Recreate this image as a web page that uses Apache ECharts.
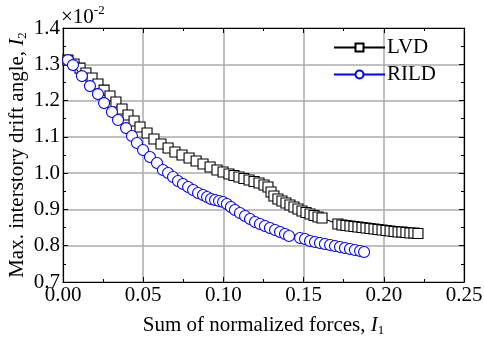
<!DOCTYPE html>
<html><head><meta charset="utf-8">
<script src="https://cdn.jsdelivr.net/npm/echarts@6/dist/echarts.min.js"></script>
<style>html,body{margin:0;padding:0;background:#fff}#c{width:484px;height:340px}</style>
</head><body><div id="c"></div>
<script>
const xTicks = [0, 0.05, 0.10, 0.15, 0.20, 0.25];
const yTicks = [0.7, 0.8, 0.9, 1.0, 1.1, 1.2, 1.3, 1.4];
const seriesNames = ['LVD', 'RILD'];

const lvdX = [0.0031,0.0069,0.0106,0.0143,0.0181,0.0218,0.0256,0.0293,0.0330,0.0368,0.0405,0.0443,0.0480,0.0524,0.0567,0.0611,0.0655,0.0698,0.0742,0.0786,0.0830,0.0873,0.0917,0.0960,0.0998,0.1035,0.1066,0.1097,0.1128,0.1160,0.1191,0.1222,0.1253,0.1278,0.1297,0.1315,0.1340,0.1365,0.1390,0.1415,0.1440,0.1465,0.1490,0.1515,0.1540,0.1565,0.1590,0.1615,0.1714,0.1739,0.1764,0.1789,0.1814,0.1839,0.1864,0.1889,0.1914,0.1939,0.1964,0.1989,0.2014,0.2039,0.2064,0.2089,0.2113,0.2138,0.2163,0.2188,0.2213];
const lvdY = [1.3116,1.3006,1.2895,1.2758,1.2620,1.2455,1.2289,1.2124,1.1959,1.1766,1.1601,1.1435,1.1270,1.1105,1.0939,1.0802,1.0691,1.0581,1.0499,1.0416,1.0333,1.0251,1.0168,1.0085,1.0030,0.9975,0.9934,0.9893,0.9851,0.9810,0.9769,0.9727,0.9672,0.9617,0.9479,0.9369,0.9287,0.9231,0.9176,0.9121,0.9066,0.9011,0.8956,0.8915,0.8873,0.8832,0.8791,0.8763,0.8598,0.8570,0.8556,0.8543,0.8529,0.8515,0.8501,0.8488,0.8474,0.8460,0.8446,0.8433,0.8419,0.8405,0.8391,0.8377,0.8377,0.8364,0.8350,0.8350,0.8336];

const rildX = [0.0031,0.0062,0.0118,0.0168,0.0218,0.0256,0.0305,0.0343,0.0393,0.0430,0.0461,0.0499,0.0542,0.0586,0.0623,0.0655,0.0686,0.0717,0.0748,0.0780,0.0811,0.0842,0.0873,0.0898,0.0923,0.0948,0.0973,0.0998,0.1022,0.1047,0.1072,0.1103,0.1135,0.1166,0.1197,0.1228,0.1259,0.1290,0.1322,0.1353,0.1384,0.1409,0.1478,0.1509,0.1540,0.1571,0.1602,0.1633,0.1665,0.1696,0.1727,0.1758,0.1789,0.1820,0.1852,0.1877];
const rildY = [1.3116,1.2978,1.2675,1.2399,1.2179,1.1931,1.1683,1.1463,1.1242,1.1022,1.0829,1.0636,1.0444,1.0278,1.0085,1.0003,0.9893,0.9782,0.9700,0.9617,0.9534,0.9452,0.9397,0.9342,0.9287,0.9259,0.9231,0.9204,0.9149,0.9066,0.8983,0.8901,0.8818,0.8736,0.8653,0.8598,0.8543,0.8488,0.8433,0.8377,0.8322,0.8267,0.8212,0.8185,0.8130,0.8102,0.8074,0.8047,0.8019,0.7992,0.7964,0.7937,0.7909,0.7882,0.7854,0.7826];

const FONT = 'Liberation Serif';
const FS = 21;
const chart = echarts.init(document.getElementById('c'), null, {renderer: 'canvas'});

const pair = (xs, ys) => xs.map((x, i) => [x, ys[i]]);

const gridCol = '#ababab';
function baseAxis(extra) {
  return Object.assign({
    type: 'value',
    axisLine: {show: true, onZero: false, lineStyle: {color: '#000', width: 1.2}},
    axisTick: {show: true, inside: true, length: 5, lineStyle: {color: '#000', width: 1}},
    minorTick: {show: true, splitNumber: 2, length: 3, lineStyle: {color: '#000', width: 1}},
    splitLine: {show: false},
    axisLabel: {show: false}
  }, extra);
}
const nameRich = {
  n: {fontFamily: FONT, fontSize: FS, color: '#000'},
  i: {fontFamily: FONT, fontSize: FS, fontStyle: 'italic', color: '#000'},
  s: {fontFamily: FONT, fontSize: 13, color: '#000', padding: [11, 0, 0, 0]}
};

chart.setOption({
  animation: false,
  backgroundColor: '#fff',
  grid: {left: 63, right: 20, top: 28, bottom: 58, containLabel: false, outerBoundsMode: 'none'},
  xAxis: [
    baseAxis({
      min: xTicks[0], max: xTicks[xTicks.length - 1], interval: 0.05, position: 'bottom',
      splitLine: {show: true, lineStyle: {color: gridCol, width: 1.5}},
      axisLabel: {show: true, margin: 3, color: '#000', fontFamily: FONT, fontSize: FS,
        formatter: v => v.toFixed(2)},
      name: '{n|Sum of normalized forces, }{i|I}{s|1}',
      nameLocation: 'middle', nameGap: 31, nameMoveOverlap: false,
      nameTextStyle: {rich: nameRich}
    }),
    baseAxis({min: xTicks[0], max: xTicks[xTicks.length - 1], interval: 0.05, position: 'top'})
  ],
  yAxis: [
    baseAxis({
      min: yTicks[0], max: yTicks[yTicks.length - 1], interval: 0.1, position: 'left',
      splitLine: {show: true, lineStyle: {color: gridCol, width: 1.5}},
      axisLabel: {show: true, margin: 3, color: '#000', fontFamily: FONT, fontSize: FS,
        formatter: v => v.toFixed(1)},
      name: '{n|Max. interstory drift angle, }{i|I}{s|2}',
      nameLocation: 'middle', nameGap: 34, nameRotate: 90, nameMoveOverlap: false,
      nameTextStyle: {rich: nameRich}
    }),
    baseAxis({min: yTicks[0], max: yTicks[yTicks.length - 1], interval: 0.1, position: 'right'})
  ],
  legend: {
    left: 328, top: 32, orient: 'vertical', itemWidth: 51, itemHeight: 10, itemGap: 6,
    textStyle: {fontFamily: FONT, fontSize: FS, color: '#000', padding: [0, 0, 0, -3]},
    data: seriesNames
  },
  graphic: [{
    type: 'text', left: 61, top: 4,
    style: {
      text: '{a|×10}{b|-2}',
      rich: {
        a: {fontFamily: FONT, fontSize: FS, fill: '#000', padding: [6, 0, 0, 0]},
        b: {fontFamily: FONT, fontSize: 13, fill: '#000', padding: [0, 0, 8, 0]}
      }
    }
  }],
  series: [
    {
      name: seriesNames[0], type: 'line', xAxisIndex: 0, yAxisIndex: 0,
      data: pair(lvdX, lvdY),
      symbol: 'rect', symbolSize: 10,
      lineStyle: {color: '#000', width: 1.2},
      itemStyle: {color: '#fff', borderColor: '#000', borderWidth: 1.1},
      z: 3
    },
    {
      name: seriesNames[1], type: 'line', xAxisIndex: 0, yAxisIndex: 0,
      data: pair(rildX, rildY),
      symbol: 'circle', symbolSize: 11,
      lineStyle: {color: '#0000ff', width: 1.2},
      itemStyle: {color: '#fff', borderColor: '#0000ff', borderWidth: 1.1},
      z: 4
    }
  ]
});
</script>
</body></html>
